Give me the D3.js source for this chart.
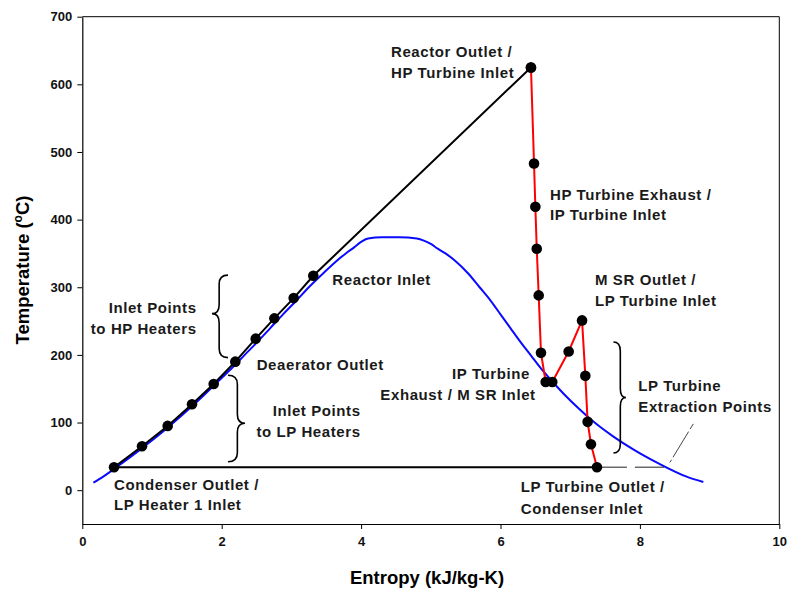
<!DOCTYPE html>
<html>
<head>
<meta charset="utf-8">
<script src="https://cdn.jsdelivr.net/npm/d3@7/dist/d3.min.js"></script>
<style>
  html, body { margin: 0; padding: 0; background: #fff; }
  svg { display: block; }
  .tick text { font-family: 'Liberation Sans', Arial, sans-serif; font-weight: bold; font-size: 13px; fill: #111; }
  .note { font-family: 'Liberation Sans', Arial, sans-serif; font-weight: bold; font-size: 15px; fill: #1a1a1a; letter-spacing: 0.6px; }
  .title { font-family: 'Liberation Sans', Arial, sans-serif; font-weight: bold; font-size: 18.5px; fill: #000; }
</style>
</head>
<body>
<svg id="chart" width="787" height="594"></svg>
<script>
// Saturation dome of water (entropy kJ/kg-K, temperature °C)
const domeS = [0.16, 0.30, 0.57, 0.83, 1.08, 1.31, 1.53, 1.74, 1.94, 2.14, 2.33, 2.52, 2.70, 2.88, 3.07, 3.25, 3.45, 3.66, 3.78, 3.90, 4.00, 4.10, 4.30, 4.55, 4.80, 4.90, 5.00, 5.10, 5.21, 5.34, 5.54, 5.70, 5.86, 6.00, 6.14, 6.28, 6.43, 6.58, 6.75, 6.93, 7.13, 7.35, 7.61, 7.91, 8.26, 8.67, 8.91];
const domeT = [11, 20, 40, 60, 80, 100, 120, 140, 160, 180, 200, 220, 240, 260, 280, 300, 320, 340, 350, 359, 367, 372, 374, 374, 372, 369, 364, 357, 350, 340, 320, 300, 280, 260, 240, 220, 200, 180, 160, 140, 120, 100, 80, 60, 40, 20, 12];

// Feedwater heating path: condenser outlet -> heaters -> reactor inlet -> reactor outlet
const heatS = [0.455, 0.857, 1.225, 1.574, 1.885, 2.195, 2.488, 2.755, 3.033, 3.314, 6.437];
const heatT = [34, 65, 95, 127, 157, 190, 224, 254, 284, 317, 625];

// Turbine expansion path: HP turbine, MSR, LP turbine down to the condenser
const turbS = [6.437, 6.481, 6.500, 6.520, 6.548, 6.581, 6.648, 6.743, 6.978, 7.170, 7.217, 7.250, 7.298, 7.384];
const turbT = [625, 483, 419, 357, 288, 203, 160, 160, 205, 251, 169, 101, 68, 34];

// Condenser line and its dashed extension to the vapour line
const condS = [0.455, 7.384];
const condT = [34, 34];
const condExtS = [7.384, 8.35];
const condExtT = [34, 34];

// Leader from the extraction-point note to the dome
const leaderS = [8.766, 8.43];
const leaderT = [98, 41];

// Axis ticks
const xTicks = [0, 2, 4, 6, 8, 10];
const yTicks = [0, 100, 200, 300, 400, 500, 600, 700];

// Braces in data units: base x, tip x, top, middle, bottom
const braces = [
  { x0: 2.090, x1: 1.860, top: 318, mid: 261, bot: 196 },
  { x0: 2.090, x1: 2.335, top: 170, mid: 99, bot: 42 },
  { x0: 7.620, x1: 7.800, top: 219, mid: 137, bot: 55 }
];

// Annotation lines (data-space baseline anchors)
const notes = [
  { t: "Reactor Outlet /", x: 4.429, y: 640.9, a: "start" },
  { t: "HP Turbine Inlet", x: 4.429, y: 609.1, a: "start" },
  { t: "HP Turbine Exhaust /", x: 6.710, y: 429.5, a: "start" },
  { t: "IP Turbine Inlet", x: 6.710, y: 398.9, a: "start" },
  { t: "M SR Outlet /", x: 7.356, y: 303.8, a: "start" },
  { t: "LP Turbine Inlet", x: 7.356, y: 272.8, a: "start" },
  { t: "Reactor Inlet", x: 3.587, y: 303.8, a: "start" },
  { t: "Inlet Points", x: 1.641, y: 262.0, a: "end" },
  { t: "to HP Heaters", x: 1.641, y: 231.4, a: "end" },
  { t: "Deaerator Outlet", x: 2.502, y: 177.1, a: "start" },
  { t: "Inlet Points", x: 3.994, y: 110.1, a: "end" },
  { t: "to LP Heaters", x: 3.994, y: 78.1, a: "end" },
  { t: "Condenser Outlet /", x: 0.455, y: 0.7, a: "start" },
  { t: "LP Heater 1 Inlet", x: 0.455, y: -29.9, a: "start" },
  { t: "IP Turbine", x: 6.423, y: 164.8, a: "end" },
  { t: "Exhaust / M SR Inlet", x: 6.505, y: 132.8, a: "end" },
  { t: "LP Turbine", x: 7.977, y: 147.1, a: "start" },
  { t: "Extraction Points", x: 7.977, y: 115.0, a: "start" },
  { t: "LP Turbine Outlet /", x: 6.290, y: -3.3, a: "start" },
  { t: "Condenser Inlet", x: 6.290, y: -34.7, a: "start" }
];

const svg = d3.select("#chart");
const x = d3.scaleLinear().domain([0, 10]).range([82.3, 779.3]);
const y = d3.scaleLinear().domain([-50, 700]).range([524, 16.7]);

const zip = (a, b) => a.map((v, i) => [v, b[i]]);
const line = d3.line().x(d => x(d[0])).y(d => y(d[1]));
const smooth = d3.line().x(d => x(d[0])).y(d => y(d[1])).curve(d3.curveMonotoneX);

// Frame
svg.append("line").attr("x1", x(0)).attr("x2", x(10)).attr("y1", y(700)).attr("y2", y(700))
  .attr("stroke", "#000").attr("stroke-width", 1);
svg.append("line").attr("x1", x(10)).attr("x2", x(10)).attr("y1", y(700)).attr("y2", y(-50))
  .attr("stroke", "#000").attr("stroke-width", 1);

// Axes
const gx = svg.append("g").attr("transform", `translate(0,${y(-50)})`)
  .call(d3.axisBottom(x).tickValues(xTicks).tickFormat(d3.format("d")).tickSize(5).tickSizeOuter(0).tickPadding(8));
const gy = svg.append("g").attr("transform", `translate(${x(0)},0)`)
  .call(d3.axisLeft(y).tickValues(yTicks).tickFormat(d3.format("d")).tickSize(5).tickSizeOuter(0).tickPadding(5));
[gx, gy].forEach(g => {
  g.select(".domain").attr("stroke", "#000").attr("stroke-width", 1.2);
  g.selectAll(".tick line").attr("stroke", "#000");
});

// Saturation dome
svg.append("path").datum(zip(domeS, domeT)).attr("d", smooth)
  .attr("fill", "none").attr("stroke", "#0a0aff").attr("stroke-width", 2);

// Condenser line + dashed extension
svg.append("path").datum(zip(condS, condT)).attr("d", line)
  .attr("fill", "none").attr("stroke", "#000").attr("stroke-width", 2);
svg.append("path").datum(zip(condExtS, condExtT)).attr("d", line)
  .attr("fill", "none").attr("stroke", "#222").attr("stroke-width", 1).attr("stroke-dasharray", "30,8");
svg.append("path").datum(zip(leaderS, leaderT)).attr("d", line)
  .attr("fill", "none").attr("stroke", "#333").attr("stroke-width", 0.9).attr("stroke-dasharray", "6,3,30,3");

// Heating path
svg.append("path").datum(zip(heatS, heatT)).attr("d", line)
  .attr("fill", "none").attr("stroke", "#000").attr("stroke-width", 2);

// Turbine path
svg.append("path").datum(zip(turbS, turbT)).attr("d", line)
  .attr("fill", "none").attr("stroke", "#ff0000").attr("stroke-width", 2);

// State points
const pts = zip(heatS, heatT).concat(zip(turbS, turbT));
svg.append("g").selectAll("circle").data(pts).join("circle")
  .attr("cx", d => x(d[0])).attr("cy", d => y(d[1])).attr("r", 5.3).attr("fill", "#000");

// Curly braces
function bracePath(b) {
  const x0 = x(b.x0), x1 = x(b.x1), yt = y(b.top), ym = y(b.mid), yb = y(b.bot);
  const xs = x0 + (x1 - x0) * 0.55;
  const r = 9;
  return `M${x0},${yt} Q${xs},${yt} ${xs},${yt + r} L${xs},${ym - r} Q${xs},${ym} ${x1},${ym}` +
         ` Q${xs},${ym} ${xs},${ym + r} L${xs},${yb - r} Q${xs},${yb} ${x0},${yb}`;
}
svg.append("g").selectAll("path").data(braces).join("path")
  .attr("d", bracePath).attr("fill", "none").attr("stroke", "#000").attr("stroke-width", 1.6);

// Annotations
svg.append("g").selectAll("text").data(notes).join("text")
  .attr("class", "note")
  .attr("x", d => x(d.x)).attr("y", d => y(d.y))
  .attr("text-anchor", d => d.a)
  .text(d => d.t);

// Axis titles
svg.append("text").attr("class", "title")
  .attr("x", 427).attr("y", 584).attr("text-anchor", "middle")
  .text("Entropy (kJ/kg-K)");
const yt = svg.append("text").attr("class", "title")
  .attr("transform", "translate(29,270) rotate(-90)").attr("text-anchor", "middle");
yt.append("tspan").text("Temperature (");
yt.append("tspan").attr("font-size", "12px").attr("dy", -7).text("o");
yt.append("tspan").attr("dy", 7).text("C)");
</script>
</body>
</html>
